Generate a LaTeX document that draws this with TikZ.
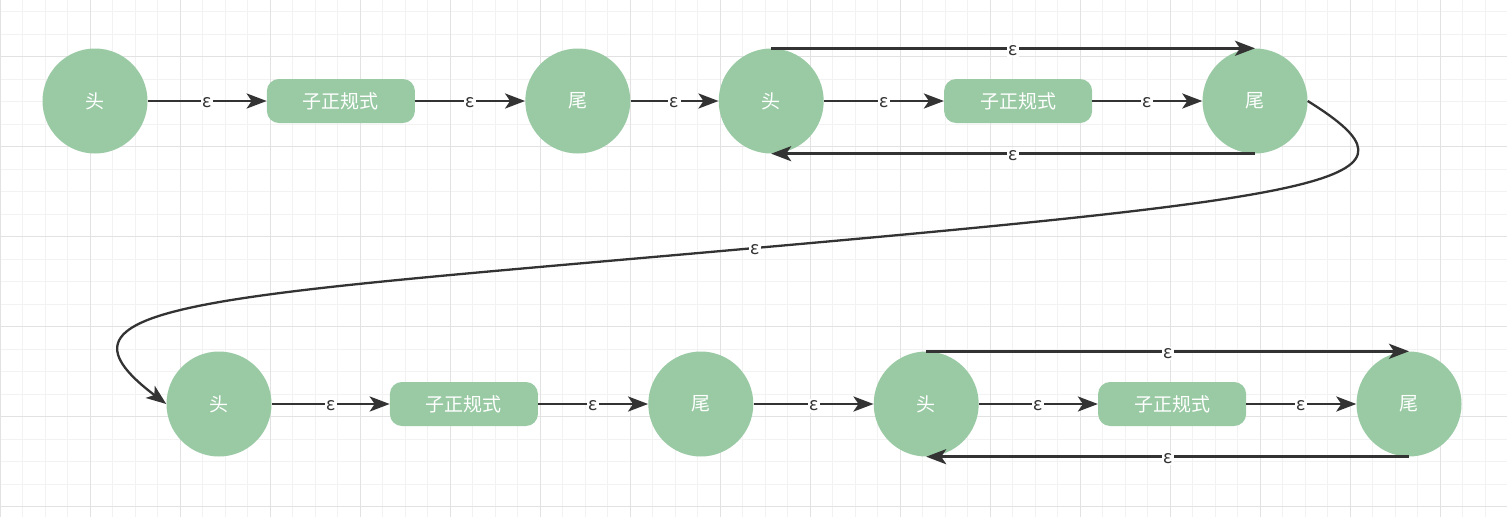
\documentclass[tikz,border=0pt]{standalone}
\usepackage{fontspec}
\setmainfont{Noto Sans CJK SC}
\usetikzlibrary{positioning,arrows.meta}
\definecolor{stategreen}{RGB}{153,202,164}
\definecolor{linegray}{RGB}{51,51,51}
\definecolor{gridlight}{RGB}{242,242,242}
\definecolor{griddark}{RGB}{226,226,226}

\begin{document}
\begin{tikzpicture}
    [x=1pt, y=-1pt,
    trans/.style={draw=linegray, line width=2.8pt, -{Stealth[length=20pt, width=15pt, inset=5pt]}},
    state/.style={circle, fill=stategreen, minimum size=105pt, inner sep=0pt, text=white, font=\fontsize{19pt}{19pt}\selectfont},
    sub/.style={rectangle, rounded corners=12pt, fill=stategreen, minimum width=148pt, minimum height=44pt, inner sep=0pt, text=white, font=\fontsize{19pt}{19pt}\selectfont},
    eps/.style={fill=white, inner sep=1.5pt, yshift=-2pt, text=linegray, font=\fontsize{18pt}{18pt}\selectfont}]

    \useasboundingbox (0,0) rectangle (1507,517);
    \fill[white] (0,0) rectangle (1507,517);
        %% grid
    \foreach \x in {0,22.5,...,1507} \draw[gridlight, line width=1pt] (\x,0) -- (\x,517);
    \foreach \y in {11.7,34.2,...,517} \draw[gridlight, line width=1pt] (0,\y) -- (1507,\y);
    \foreach \x in {0,90,...,1507} \draw[griddark, line width=1pt] (\x,0) -- (\x,517);
    \foreach \y in {56.7,146.7,...,517} \draw[griddark, line width=1pt] (0,\y) -- (1507,\y);

        %% row 1
    \node[state] (H1) at (95,101) {头};
    \node[sub, right=119pt of H1] (S1) {子正规式};
    \node[state, right=110pt of S1] (T1) {尾};
    \node[state, right=88pt of T1] (H2) {头};
    \node[sub, right=120pt of H2] (S2) {子正规式};
    \node[state, right=110pt of S2] (T2) {尾};

        %% row 2
    \node[state] (H3) at (219,404) {头};
    \node[sub, right=118pt of H3] (S3) {子正规式};
    \node[state, right=110pt of S3] (T3) {尾};
    \node[state, right=120pt of T3] (H4) {头};
    \node[sub, right=119pt of H4] (S4) {子正规式};
    \node[state, right=110pt of S4] (T4) {尾};

    \foreach \a/\b in {H1/S1, S1/T1, T1/H2, H2/S2, S2/T2, H3/S3, S3/T3, T3/H4, H4/S4, S4/T4}
        \draw[trans] (\a) -- node[eps] {ε} (\b);

        %% loops
    \draw[trans] (H2.north) -- node[eps] {ε} (T2.north);
    \draw[trans] (T2.south) -- node[eps] {ε} (H2.south);
    \draw[trans] (H4.north) -- node[eps] {ε} (T4.north);
    \draw[trans] (T4.south) -- node[eps] {ε} (H4.south);

        %% row 1 to row 2
    \coordinate (M) at (755,248);
    \draw[trans, line width=2.3pt] (T2.east) .. controls (1433,179) and (1353,195) .. (M) node[eps] {ε}
        .. controls (207,297) and (31,302) .. (H3.west);
\end{tikzpicture}
\end{document}
